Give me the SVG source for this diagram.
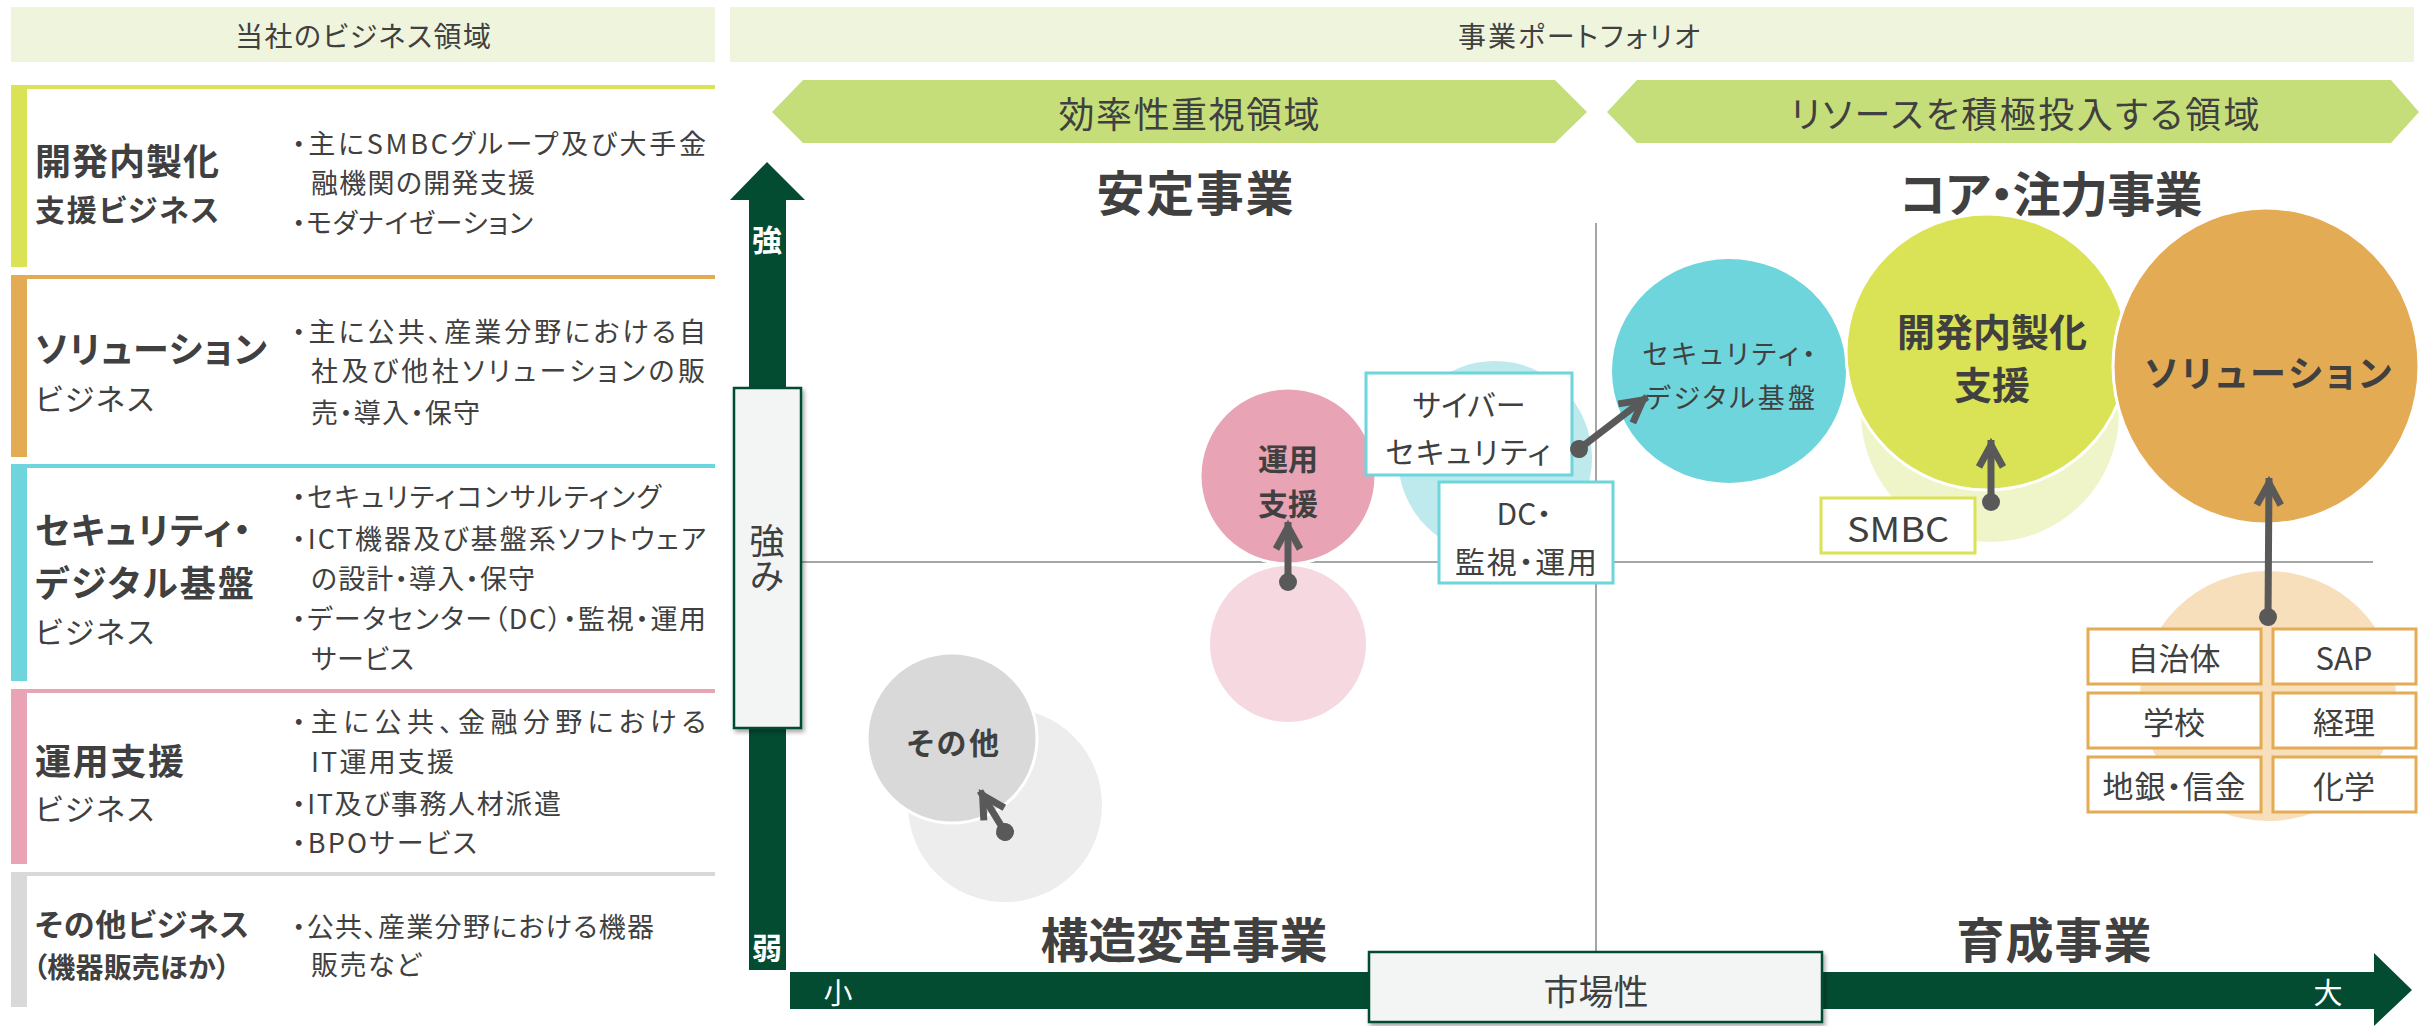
<svg xmlns="http://www.w3.org/2000/svg" width="2420" height="1026" viewBox="0 0 2420 1026">
<defs>
<style>
text { font-family: "Noto Sans CJK JP", "Noto Sans", sans-serif; fill: #404040; dominant-baseline: central; font-feature-settings: "palt" 1; }
.c { text-anchor: middle; }
.b { font-weight: bold; }
.hd { font-size: 28px; }
.h1 { font-size: 36px; font-weight: bold; }
.h2 { font-size: 30px; }
.t { font-size: 27px; }
.q { font-size: 48px; font-weight: bold; }
.w { fill: #ffffff; }
.hdr { fill: #eff5dc; }
.hex { fill: #c5de7a; }
.ql { stroke: #a6a6a6; stroke-width: 2; }
.ax { fill: #034b31; }
.axbox { fill: #f2f5f3; stroke: #034b31; stroke-width: 2.5; }
.wb { stroke: #ffffff; stroke-width: 3; }
.lbl { fill: #ffffff; stroke-width: 3; }
.vt { writing-mode: vertical-rl; font-feature-settings: normal; }
.conn { stroke: #595959; stroke-width: 7; fill: none; marker-start: url(#dot); marker-end: url(#ah); }
</style>
<filter id="sh" x="-20%" y="-20%" width="140%" height="140%">
<feDropShadow dx="2" dy="3" stdDeviation="2" flood-color="#000000" flood-opacity="0.35"/>
</filter>
<marker id="ah" markerUnits="userSpaceOnUse" markerWidth="60" markerHeight="60" viewBox="-40 -30 60 60" refX="0" refY="0" orient="auto" overflow="visible">
<path d="M-27,-12 L-5,0 L-27,12" fill="none" stroke="#595959" stroke-width="7"/>
</marker>
<marker id="dot" markerUnits="userSpaceOnUse" markerWidth="30" markerHeight="30" viewBox="-15 -15 30 30" refX="0" refY="0" orient="auto" overflow="visible">
<circle cx="0" cy="0" r="9" fill="#595959"/>
</marker>
</defs>
<rect x="0" y="0" width="2420" height="1026" fill="#ffffff"/>

<!-- Left panel -->
<g id="left-header">
<rect class="hdr" x="11" y="7" width="704" height="55"/>
<text class="c hd" x="363" y="35" textLength="256" lengthAdjust="spacing">当社のビジネス領域</text>
</g>

<g id="biz-kaihatsu">
<rect x="11" y="85" width="704" height="4" fill="#d9e355"/>
<rect x="11" y="85" width="16" height="182" fill="#d9e355"/>
<text class="h1" x="35" y="159" textLength="184" lengthAdjust="spacing">開発内製化</text>
<text class="h2 b" x="35" y="208" textLength="184" lengthAdjust="spacing">支援ビジネス</text>
<text class="t" x="292" y="142" textLength="414" lengthAdjust="spacing">・主にSMBCグループ及び大手金</text>
<text class="t" x="311" y="181" textLength="224" lengthAdjust="spacing">融機関の開発支援</text>
<text class="t" x="292" y="221" textLength="241" lengthAdjust="spacing">・モダナイゼーション</text>
</g>

<g id="biz-solution">
<rect x="11" y="275" width="704" height="4" fill="#e4ab55"/>
<rect x="11" y="275" width="16" height="182" fill="#e4ab55"/>
<text class="h1" x="35" y="347" textLength="232" lengthAdjust="spacing">ソリューション</text>
<text class="h2" x="35" y="397" textLength="119" lengthAdjust="spacing">ビジネス</text>
<text class="t" x="292" y="330" textLength="414" lengthAdjust="spacing">・主に公共、産業分野における自</text>
<text class="t" x="311" y="369" textLength="394" lengthAdjust="spacing">社及び他社ソリューションの販</text>
<text class="t" x="311" y="411" textLength="169" lengthAdjust="spacing">売・導入・保守</text>
</g>

<g id="biz-security">
<rect x="11" y="464" width="704" height="4" fill="#6dd5db"/>
<rect x="11" y="464" width="16" height="217" fill="#6dd5db"/>
<text class="h1" x="35" y="528" textLength="216" lengthAdjust="spacing">セキュリティ・</text>
<text class="h1" x="35" y="581" textLength="219" lengthAdjust="spacing">デジタル基盤</text>
<text class="h2" x="35" y="630" textLength="119" lengthAdjust="spacing">ビジネス</text>
<text class="t" x="292" y="495" textLength="369" lengthAdjust="spacing">・セキュリティコンサルティング</text>
<text class="t" x="292" y="537" textLength="414" lengthAdjust="spacing">・ICT機器及び基盤系ソフトウェア</text>
<text class="t" x="311" y="577" textLength="224" lengthAdjust="spacing">の設計・導入・保守</text>
<text class="t" x="292" y="617" textLength="414" lengthAdjust="spacing">・データセンター（DC）・監視・運用</text>
<text class="t" x="311" y="657" textLength="103" lengthAdjust="spacing">サービス</text>
</g>

<g id="biz-unyo">
<rect x="11" y="689" width="704" height="4" fill="#e8a3b5"/>
<rect x="11" y="689" width="16" height="175" fill="#e8a3b5"/>
<text class="h1" x="35" y="759" textLength="149" lengthAdjust="spacing">運用支援</text>
<text class="h2" x="35" y="807" textLength="119" lengthAdjust="spacing">ビジネス</text>
<text class="t" x="292" y="720" textLength="414" lengthAdjust="spacing">・主に公共、金融分野における</text>
<text class="t" x="311" y="760" textLength="143" lengthAdjust="spacing">IT運用支援</text>
<text class="t" x="292" y="802" textLength="269" lengthAdjust="spacing">・IT及び事務人材派遣</text>
<text class="t" x="292" y="841" textLength="185" lengthAdjust="spacing">・BPOサービス</text>
</g>

<g id="biz-other">
<rect x="11" y="872" width="704" height="4" fill="#d9d9d9"/>
<rect x="11" y="872" width="16" height="135" fill="#d9d9d9"/>
<text class="b" style="font-size:31px" x="35" y="922" textLength="214" lengthAdjust="spacing">その他ビジネス</text>
<text class="b" style="font-size:28px" x="33" y="966" textLength="197" lengthAdjust="spacing">（機器販売ほか）</text>
<text class="t" x="292" y="925" textLength="362" lengthAdjust="spacing">・公共、産業分野における機器</text>
<text class="t" x="311" y="963" textLength="110" lengthAdjust="spacing">販売など</text>
</g>

<!-- Right panel -->
<g id="right-header">
<rect class="hdr" x="730" y="7" width="1684" height="55"/>
<text class="c hd" x="1579" y="35" textLength="242" lengthAdjust="spacing">事業ポートフォリオ</text>
</g>

<g id="band-efficiency">
<polygon class="hex" points="772,112 803,80 1555,80 1587,112 1555,143 803,143"/>
<text class="c" style="font-size:36px" x="1189" y="112" textLength="261" lengthAdjust="spacing">効率性重視領域</text>
</g>
<g id="band-invest">
<polygon class="hex" points="1607,112 1637,80 2391,80 2419,112 2391,143 1637,143"/>
<text class="c" style="font-size:36px" x="2025" y="112" textLength="469" lengthAdjust="spacing">リソースを積極投入する領域</text>
</g>

<g id="quadrant-lines">
<line class="ql" x1="802" y1="562" x2="2373" y2="562"/>
<line class="ql" x1="1596" y1="223" x2="1596" y2="952"/>
</g>

<g id="quadrant-titles">
<text class="c q" x="1195" y="190" textLength="197" lengthAdjust="spacing">安定事業</text>
<text class="c q" x="2051" y="191" textLength="303" lengthAdjust="spacing">コア・注力事業</text>
<text class="c q" x="1184" y="937" textLength="287" lengthAdjust="spacing">構造変革事業</text>
<text class="c q" x="2054" y="937" textLength="195" lengthAdjust="spacing">育成事業</text>
</g>

<g id="axis-strength">
<path class="ax" d="M749,970 L749,200 L730,200 L767,162 L805,200 L786,200 L786,970 Z"/>
<text class="c b w" style="font-size:30px" x="767" y="238">強</text>
<text class="c b w" style="font-size:30px" x="767" y="946">弱</text>
<rect class="axbox" x="734" y="388" width="67" height="340" filter="url(#sh)"/>
<text class="c vt" style="font-size:35px" x="767" y="558">強み</text>
</g>

<g id="axis-market">
<path class="ax" d="M790,972 L2374,972 L2374,953 L2412,990 L2374,1026 L2374,1009 L790,1009 Z"/>
<text class="c w" style="font-size:29px" x="838" y="991">小</text>
<text class="c w" style="font-size:29px" x="2328" y="991">大</text>
<rect class="axbox" x="1369" y="952" width="453" height="70" filter="url(#sh)"/>
<text class="c" style="font-size:35px" x="1596" y="989">市場性</text>
</g>

<!-- Circles -->
<g id="node-other">
<circle cx="1005" cy="805" r="97" fill="#ededed"/>
<circle class="wb" cx="952" cy="738" r="85" fill="#d9d9d9"/>
<text class="c b" style="font-size:30px" x="953" y="741" textLength="92" lengthAdjust="spacing">その他</text>
</g>

<g id="node-unyo">
<circle cx="1288" cy="644" r="78" fill="#f6d8e1"/>
<circle class="wb" cx="1288" cy="476" r="88" fill="#e8a3b5"/>
<text class="c b" style="font-size:30px" x="1288" y="457">運用</text>
<text class="c b" style="font-size:30px" x="1288" y="502">支援</text>
</g>

<g id="node-cyber-bg">
<circle cx="1495" cy="458" r="97" fill="#bfeaed"/>
</g>

<g id="node-security">
<ellipse cx="1729" cy="371" rx="117" ry="112" fill="#6dd5db"/>
<text class="c" style="font-size:27px" x="1729" y="352" textLength="173" lengthAdjust="spacing">セキュリティ・</text>
<text class="c" style="font-size:27px" x="1730" y="396" textLength="170" lengthAdjust="spacing">デジタル基盤</text>
</g>

<g id="node-kaihatsu">
<circle cx="1990" cy="413" r="129" fill="#eff5c8"/>
<ellipse class="wb" cx="1987" cy="352" rx="141" ry="138" fill="#d9e355"/>
<text class="c b" style="font-size:38px" x="1992" y="329" textLength="190" lengthAdjust="spacing">開発内製化</text>
<text class="c b" style="font-size:38px" x="1992" y="382">支援</text>
</g>

<g id="node-solution">
<ellipse cx="2268" cy="696" rx="128" ry="125" fill="#f6dfba"/>
<ellipse class="wb" cx="2266" cy="366" rx="153" ry="158" fill="#e4ab55"/>
<text class="c b" style="font-size:36px" x="2268" y="371" textLength="247" lengthAdjust="spacing">ソリューション</text>
</g>

<!-- Label boxes -->
<g id="label-cyber">
<rect class="lbl" x="1366" y="373" width="206" height="102" stroke="#6dd5db"/>
<text class="c" style="font-size:30px" x="1469" y="403" textLength="113" lengthAdjust="spacing">サイバー</text>
<text class="c" style="font-size:30px" x="1468" y="450" textLength="165" lengthAdjust="spacing">セキュリティ</text>
</g>
<g id="label-dc">
<rect class="lbl" x="1439" y="482" width="174" height="101" stroke="#6dd5db"/>
<text class="c" style="font-size:30px" x="1524" y="512">DC・</text>
<text class="c" style="font-size:30px" x="1526" y="560" textLength="142" lengthAdjust="spacing">監視・運用</text>
</g>
<g id="label-smbc">
<rect class="lbl" x="1821" y="498" width="154" height="55" stroke="#d9e355"/>
<text class="c" style="font-size:34px" x="1898" y="527" textLength="102" lengthAdjust="spacingAndGlyphs">SMBC</text>
</g>
<g id="label-jichitai">
<rect class="lbl" x="2088" y="629" width="173" height="55" stroke="#e4ab55"/>
<text class="c" style="font-size:31px" x="2174" y="656">自治体</text>
</g>
<g id="label-sap">
<rect class="lbl" x="2273" y="629" width="143" height="55" stroke="#e4ab55"/>
<text class="c" style="font-size:31px" x="2344" y="656">SAP</text>
</g>
<g id="label-gakko">
<rect class="lbl" x="2088" y="693" width="173" height="55" stroke="#e4ab55"/>
<text class="c" style="font-size:31px" x="2174" y="720">学校</text>
</g>
<g id="label-keiri">
<rect class="lbl" x="2273" y="693" width="143" height="55" stroke="#e4ab55"/>
<text class="c" style="font-size:31px" x="2344" y="720">経理</text>
</g>
<g id="label-chigin">
<rect class="lbl" x="2088" y="757" width="173" height="55" stroke="#e4ab55"/>
<text class="c" style="font-size:31px" x="2174" y="784" textLength="143" lengthAdjust="spacing">地銀・信金</text>
</g>
<g id="label-kagaku">
<rect class="lbl" x="2273" y="757" width="143" height="55" stroke="#e4ab55"/>
<text class="c" style="font-size:31px" x="2344" y="784">化学</text>
</g>

<!-- Connectors -->
<g id="connectors">
<line class="conn" x1="1005" y1="832" x2="980" y2="791"/>
<line class="conn" x1="1288" y1="582" x2="1288" y2="522"/>
<line class="conn" x1="1579" y1="449" x2="1647" y2="397"/>
<line class="conn" x1="1991" y1="502" x2="1991" y2="440"/>
<line class="conn" x1="2268" y1="617" x2="2269" y2="478"/>
</g>
</svg>
